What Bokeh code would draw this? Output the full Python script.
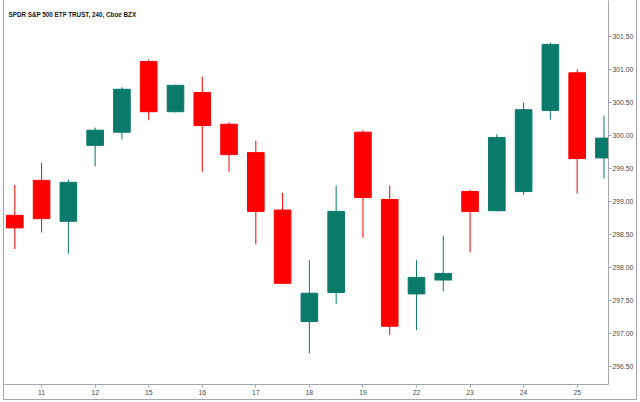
from bokeh.plotting import figure
from bokeh.models import ColumnDataSource, FixedTicker, PrintfTickFormatter, Label, Range1d
from bokeh.embed import file_html
from bokeh.resources import INLINE

title_text = "SPDR S&P 500 ETF TRUST, 240, Cboe BZX"

# 240-minute bars (two per trading day)
opens  = [298.79, 299.32, 298.70, 299.85, 300.05, 301.12, 300.36, 300.65, 300.17, 299.74,
          298.87, 297.18, 297.62, 300.05, 299.03, 297.60, 297.81, 299.15, 298.86, 299.15,
          300.38, 300.95, 299.66]
highs  = [299.25, 299.58, 299.33, 300.12, 300.73, 301.15, 300.77, 300.89, 300.20, 299.92,
          299.13, 298.11, 299.24, 300.08, 299.24, 298.11, 298.48, 299.18, 300.02, 300.50,
          301.41, 301.00, 300.30]
lows   = [298.28, 298.53, 298.21, 299.53, 299.94, 300.23, 300.35, 299.45, 299.45, 298.35,
          297.75, 296.70, 297.45, 298.45, 296.98, 297.05, 297.64, 298.23, 298.85, 299.10,
          300.24, 299.12, 299.35]
closes = [298.60, 298.74, 299.29, 300.08, 300.70, 300.36, 300.76, 300.15, 299.71, 298.85,
          297.76, 297.61, 298.85, 299.06, 297.11, 297.85, 297.91, 298.85, 299.97, 300.39,
          301.38, 299.65, 299.96]

day_labels = ["11", "12", "15", "16", "17", "18", "19", "22", "23", "24", "25"]
day_first_bar = [1, 3, 5, 7, 9, 11, 13, 15, 17, 19, 21]
price_ticks = [296.5, 297.0, 297.5, 298.0, 298.5, 299.0, 299.5, 300.0, 300.5, 301.0, 301.5]

UP = "#0a7a6b"
DOWN = "#ff0000"
AXIS = "#a3a6af"
TXT = "#4a4a4a"

idx = list(range(len(opens)))
colors = [UP if c >= o else DOWN for o, c in zip(opens, closes)]
src = ColumnDataSource(dict(
    x=idx,
    top=[max(o, c) for o, c in zip(opens, closes)],
    bottom=[min(o, c) for o, c in zip(opens, closes)],
    high=highs, low=lows, color=colors,
))

x_start, x_end = -0.385, 22.17
y_start, y_end = 296.227, 302.045

p = figure(width=637, height=400, title=None,
           x_range=Range1d(x_start, x_end), y_range=Range1d(y_start, y_end),
           y_axis_location="right", toolbar_location=None, output_backend="svg",
           min_border_left=4, min_border_top=0, min_border_right=29, min_border_bottom=16)
p.outline_line_color = None
p.border_fill_color = None
p.background_fill_color = "white"
p.xgrid.grid_line_color = None
p.ygrid.grid_line_color = None
p.styles = {"box-shadow": "inset 3px 0 0 0 #ffffff, inset 4px 0 0 0 %s, inset -1px -1px 0 0 %s"
            % (AXIS, AXIS)}

p.segment(x0="x", y0="high", x1="x", y1="low", source=src, line_color="color", line_width=1)
p.vbar(x="x", width=0.62, top="top", bottom="bottom", source=src,
       fill_color="color", line_color="color", line_width=1)

ax = p.xaxis[0]
ax.ticker = FixedTicker(ticks=day_first_bar)
ax.major_label_overrides = {b: l for b, l in zip(day_first_bar, day_labels)}
ax.major_tick_out = 3
ax.major_tick_in = 0
ax.minor_tick_line_color = None
ax.major_label_standoff = 2
ax.major_label_text_font = "Liberation Sans"
ax.major_label_text_font_size = "6.8px"
ax.major_label_text_color = TXT
ax.axis_line_color = AXIS
ax.major_tick_line_color = AXIS

ay = p.yaxis[0]
ay.ticker = FixedTicker(ticks=price_ticks)
ay.formatter = PrintfTickFormatter(format="%.2f")
ay.major_tick_out = 3
ay.major_tick_in = 0
ay.minor_tick_line_color = None
ay.major_label_standoff = 1
ay.major_label_text_font = "Liberation Sans"
ay.major_label_text_font_size = "6.8px"
ay.major_label_text_color = TXT
ay.axis_line_color = AXIS
ay.major_tick_line_color = AXIS

p.add_layout(Label(x=x_start, y=y_end, x_offset=4, y_offset=-14, text=title_text,
                   text_font="Liberation Sans", text_font_size="6.3px", text_font_style="bold",
                   text_color="#131722", text_baseline="middle"))

p.add_layout(Label(x=x_end, y=closes[-1], x_offset=1, text="%.2f" % closes[-1],
                   text_font="Liberation Sans", text_font_size="6.8px", text_color="white",
                   text_baseline="middle", background_fill_color=UP, padding=2))

open("out.html", "w").write(file_html(p, INLINE))
